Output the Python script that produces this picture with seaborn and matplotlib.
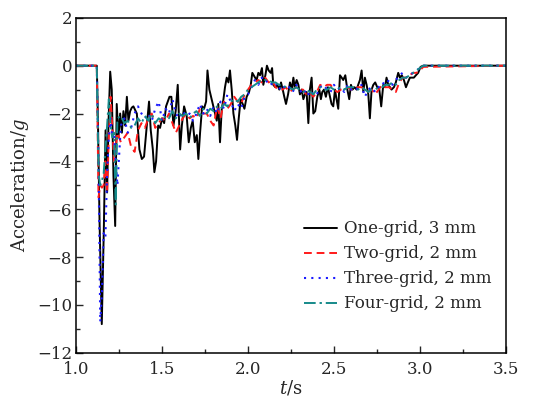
import numpy as np
import matplotlib
matplotlib.use("Agg")
import matplotlib.pyplot as plt
import seaborn as sns
from matplotlib.ticker import MultipleLocator

# One-grid, 3 mm
t_one = [1.0, 1.12, 1.126, 1.136, 1.149, 1.161, 1.171, 1.180, 1.188, 1.198,
         1.207, 1.217, 1.227, 1.236, 1.246, 1.256, 1.266, 1.275, 1.285, 1.295,
         1.304, 1.314, 1.324, 1.333, 1.353, 1.368, 1.382, 1.395, 1.411, 1.424,
         1.434, 1.446, 1.455, 1.465, 1.477, 1.488, 1.50, 1.512, 1.523, 1.543,
         1.554, 1.566, 1.579, 1.591, 1.605, 1.615, 1.628, 1.643, 1.655, 1.667,
         1.678, 1.690, 1.702, 1.711, 1.721, 1.733, 1.744, 1.756, 1.764, 1.775,
         1.785, 1.798, 1.808, 1.818, 1.827, 1.837, 1.847, 1.857, 1.866, 1.876,
         1.886, 1.895, 1.905, 1.915, 1.926, 1.936, 1.946, 1.957, 1.969, 1.979,
         1.992, 2.006, 2.016, 2.025, 2.041, 2.050, 2.060, 2.070, 2.081, 2.089,
         2.101, 2.110, 2.120, 2.132, 2.140, 2.147, 2.159, 2.171, 2.182, 2.192,
         2.202, 2.211, 2.221, 2.233, 2.244, 2.254, 2.264, 2.271, 2.283, 2.293,
         2.302, 2.312, 2.322, 2.331, 2.341, 2.351, 2.360, 2.370, 2.380, 2.391,
         2.403, 2.415, 2.424, 2.432, 2.442, 2.453, 2.465, 2.477, 2.486, 2.496,
         2.506, 2.515, 2.525, 2.535, 2.545, 2.554, 2.566, 2.578, 2.589, 2.599,
         2.608, 2.620, 2.632, 2.641, 2.651, 2.661, 2.671, 2.680, 2.690, 2.700,
         2.709, 2.719, 2.729, 2.740, 2.752, 2.764, 2.775, 2.787, 2.797, 2.806,
         2.816, 2.826, 2.835, 2.849, 2.860, 2.874, 2.884, 2.895, 2.907, 2.919,
         2.930, 2.942, 2.953, 2.965, 2.977, 2.990, 3.004, 3.02, 3.5]
acc_one = [0, 0, -2.0, -6.5, -10.8, -6.8, -2.7, -5.3, -2.4, -0.25,
           -1.0, -4.6, -6.7, -1.6, -3.0, -2.0, -2.8, -1.9, -2.5, -1.3,
           -2.3, -1.9, -1.75, -1.7, -2.0, -3.5, -3.9, -3.8, -2.5, -1.5,
           -2.7, -3.5, -4.45, -4.0, -2.5, -2.6, -2.2, -2.4, -1.7, -1.3,
           -1.3, -2.5, -1.9, -0.8, -3.5, -2.5, -1.7, -2.1, -3.2, -2.6,
           -2.3, -3.2, -2.9, -3.9, -2.8, -1.7, -1.8, -1.5, -0.2, -1.0,
           -1.3, -1.7, -2.0, -2.3, -1.6, -3.2, -1.8, -1.4, -0.9, -0.5,
           -0.7, -0.2, -1.0, -2.0, -2.5, -3.1, -2.2, -1.4, -1.6, -1.8,
           -1.3, -1.1, -0.8, -0.3, -0.5, -0.6, -0.3, -0.4, -0.1, -0.8,
           -0.4, 0.0, -0.2, -0.3, -0.1, -0.8, -0.9, -0.8, -1.0, -0.7,
           -1.0, -1.3, -1.6, -1.2, -0.7, -1.0, -0.5, -0.9, -0.6, -0.8,
           -1.2, -1.0, -1.4, -1.2, -1.1, -2.4, -1.0, -0.5, -2.0, -1.9,
           -1.3, -1.0, -1.4, -1.1, -1.0, -1.3, -0.9, -1.3, -1.6, -1.7,
           -1.0, -1.4, -1.8, -0.4, -0.5, -0.6, -0.4, -1.0, -1.4, -0.8,
           -1.0, -0.9, -1.0, -0.8, -0.6, -0.2, -1.1, -0.5, -0.8, -1.2,
           -2.2, -1.0, -0.8, -0.7, -0.9, -1.0, -1.7, -0.8, -0.9, -0.5,
           -0.8, -0.9, -1.0, -0.9, -0.7, -0.3, -0.5, -0.4, -0.6, -0.9,
           -0.7, -0.5, -0.5, -0.5, -0.4, -0.3, -0.05, 0, 0]

# shared time axis for the 2 mm runs
t_fine = [1.0, 1.12, 1.13, 1.14, 1.15, 1.16, 1.17, 1.18, 1.19, 1.20, 1.21, 1.22, 1.23, 1.24,
          1.26, 1.28, 1.30, 1.32, 1.34, 1.36, 1.38, 1.40, 1.42, 1.44,
          1.46, 1.48, 1.50, 1.52, 1.54, 1.56, 1.58, 1.60, 1.62, 1.64,
          1.66, 1.68, 1.70, 1.72, 1.74, 1.76, 1.78, 1.80, 1.82, 1.84,
          1.86, 1.88, 1.90, 1.92, 1.94, 1.96, 1.98, 2.00, 2.02, 2.04,
          2.06, 2.08, 2.10, 2.12, 2.14, 2.16, 2.18, 2.20, 2.22, 2.24,
          2.26, 2.28, 2.30, 2.32, 2.34, 2.36, 2.38, 2.40, 2.42, 2.44,
          2.46, 2.48, 2.50, 2.52, 2.54, 2.56, 2.58, 2.60, 2.62, 2.64,
          2.66, 2.68, 2.70, 2.72, 2.74, 2.76, 2.78, 2.80, 2.82, 2.84,
          2.86, 2.88, 2.90, 2.92, 2.94, 2.96, 2.98, 3.00,
          3.02, 3.5]

acc_two = [0, 0, -5.5, -5.0, -5.1, -5.0, -4.0, -5.3, -3.0, -1.3, -2.5, -4.0, -3.5, -2.8,
           -3.2, -3.0, -2.8, -3.4, -3.6, -2.7, -2.4, -2.6, -2.2, -2.0,
           -2.6, -2.4, -2.2, -2.3, -2.0, -2.4, -2.8, -2.5, -2.2, -2.0,
           -2.2, -2.1, -2.2, -1.8, -2.0, -2.0, -2.3, -2.5, -1.7, -2.2,
           -1.5, -1.8, -1.6, -1.3, -1.5, -1.6, -1.2, -1.0, -0.8, -0.7,
           -0.6, -0.7, -0.5, -0.7, -0.6, -0.9, -1.0, -1.0, -0.9, -1.1,
           -1.0, -0.9, -1.0, -1.0, -1.2, -1.1, -1.3, -1.1, -0.8, -0.9,
           -0.8, -0.8, -1.0, -1.1, -1.0, -1.0, -0.9, -1.0, -0.9, -0.9,
           -0.9, -1.0, -1.1, -1.0, -1.2, -1.0, -0.8, -0.9, -0.9, -1.0,
           -1.1, -0.7, -0.5, -0.5, -0.4, -0.3, -0.3, -0.2,
           -0.05, 0]

acc_three = [0, 0, -4.0, -10.7, -9.5, -7.0, -7.2, -4.5, -3.0, -2.2, -3.0, -2.8, -4.0, -5.0,
             -2.5, -2.2, -2.8, -2.6, -2.0, -1.7, -2.0, -2.2, -2.0, -2.3,
             -1.8, -1.5, -2.3, -1.8, -2.0, -1.4, -2.0, -2.2, -1.9, -2.1,
             -2.0, -2.3, -2.0, -1.6, -2.0, -1.8, -2.1, -1.7, -2.0, -1.5,
             -1.8, -1.2, -1.5, -1.9, -1.6, -1.8, -1.3, -1.2, -0.9, -0.6,
             -0.8, -0.5, -0.7, -0.6, -0.8, -0.7, -1.0, -0.8, -1.0, -0.9,
             -1.1, -0.8, -1.0, -1.2, -1.0, -1.3, -1.1, -1.2, -0.9, -0.8,
             -1.0, -1.1, -0.8, -1.0, -0.9, -1.1, -0.8, -1.0, -0.9, -1.0,
             -0.8, -1.3, -1.0, -0.9, -1.1, -0.9, -0.7, -0.8, -0.6, -0.8,
             -0.6, -0.4, -0.3, -0.5, -0.4, -0.3, -0.2, -0.1,
             0, 0]

acc_four = [0, 0, -4.5, -5.0, -4.8, -4.5, -3.5, -2.5, -1.4, -2.5, -3.0, -2.8, -5.8, -2.2,
            -2.1, -2.4, -2.3, -2.6, -2.5, -2.2, -2.4, -2.1, -2.3, -2.0,
            -2.4, -2.2, -2.3, -2.1, -2.2, -1.9, -2.2, -2.0, -2.1, -2.0,
            -2.2, -2.0, -1.9, -2.1, -1.8, -2.0, -1.8, -1.9, -1.7, -1.8,
            -1.6, -1.7, -1.5, -1.4, -1.5, -1.3, -1.2, -1.0, -0.9, -0.8,
            -0.7, -0.6, -0.6, -0.6, -0.7, -0.7, -0.8, -0.8, -0.9, -0.9,
            -1.0, -0.9, -1.0, -1.1, -1.0, -1.1, -1.2, -1.0, -0.9, -1.0,
            -1.0, -0.9, -1.0, -1.0, -0.9, -1.0, -0.9, -0.9, -0.9, -1.0,
            -0.9, -1.0, -1.1, -1.0, -1.0, -0.9, -0.9, -0.8, -0.8, -0.7,
            -0.8, -0.6, -0.5, -0.5, -0.4, -0.3, -0.2, -0.1,
            0, 0]

labels = ["One-grid, 3 mm", "Two-grid, 2 mm", "Three-grid, 2 mm", "Four-grid, 2 mm"]

sns.set_style("ticks")
plt.rcParams["font.family"] = ["DejaVu Serif"]
plt.rcParams["mathtext.fontset"] = "dejavuserif"
plt.rcParams["axes.unicode_minus"] = True

fig = plt.figure(figsize=(5.48, 3.96), dpi=100)
ax = fig.add_axes([0.139, 0.109, 0.784, 0.846])

sns.lineplot(x=t_one, y=acc_one, ax=ax, color="black", lw=1.4,
             estimator=None, sort=False, label=labels[0])
sns.lineplot(x=t_fine, y=acc_two, ax=ax, color="#ff1a1a", lw=1.4,
             estimator=None, sort=False, label=labels[1])
sns.lineplot(x=t_fine, y=acc_three, ax=ax, color="#1a1aff", lw=1.5,
             estimator=None, sort=False, label=labels[2])
sns.lineplot(x=t_fine, y=acc_four, ax=ax, color="#168a8a", lw=1.4,
             estimator=None, sort=False, label=labels[3])

styles = ["-", (0, (4, 2.5)), (0, (1, 2.5)), (0, (6, 2, 1.2, 2))]
for ln, st in zip(ax.get_lines(), styles):
    ln.set_linestyle(st)

ax.set_xlim(1.0, 3.5)
ax.set_ylim(-12, 2)
ax.xaxis.set_major_locator(MultipleLocator(0.5))
ax.xaxis.set_minor_locator(MultipleLocator(0.25))
ax.yaxis.set_major_locator(MultipleLocator(2))
ax.yaxis.set_minor_locator(MultipleLocator(1))
ax.tick_params(which="both", direction="in", labelsize=12, top=False, right=False)
ax.tick_params(which="major", length=5, width=1)
ax.tick_params(which="minor", length=3, width=1)
ax.tick_params(axis="x", which="major", pad=6)
ax.tick_params(axis="y", which="major", pad=3)
for sp in ax.spines.values():
    sp.set_linewidth(1.1)
    sp.set_color("black")

ax.set_xlabel("$t$/s", fontsize=13, labelpad=0)
ax.set_ylabel("Acceleration/$g$", fontsize=13, labelpad=4)

leg = ax.legend(loc="upper left", bbox_to_anchor=(0.51, 0.42), frameon=False,
                fontsize=12, handlelength=2.0, handletextpad=0.4,
                labelspacing=0.48, borderpad=0)
for h, st in zip(leg.get_lines(), styles):
    h.set_linestyle(st)

fig.savefig("out.png", dpi=100)
